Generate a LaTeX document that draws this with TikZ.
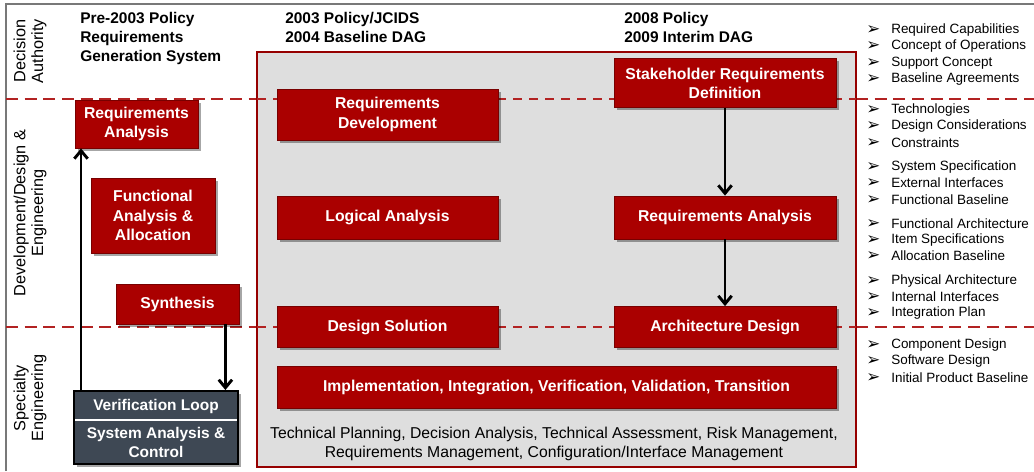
\documentclass[tikz,border=0pt]{standalone}
\usepackage{fontspec}
\setmainfont{Liberation Sans}
\newfontfamily\dejavu{DejaVu Sans}
\usetikzlibrary{shadows,arrows.meta}
\definecolor{boxred}{RGB}{170,0,0}
\definecolor{boxredline}{RGB}{120,0,0}
\definecolor{dashred}{RGB}{178,34,34}
\definecolor{panelgray}{RGB}{222,222,222}
\definecolor{panelline}{RGB}{150,0,0}
\definecolor{darkbox}{RGB}{62,72,84}
\definecolor{framegray}{RGB}{120,120,120}
\tikzset{
  redbox/.style={draw=boxredline, line width=0.6pt, fill=boxred, text=white,
    font=\bfseries\fontsize{11.8}{14.4}\selectfont, align=center, inner sep=0pt,
    drop shadow={shadow xshift=2pt, shadow yshift=-2pt, fill=black, opacity=0.35}},
  hdr/.style={font=\bfseries\fontsize{11.6}{14.2}\selectfont, align=left, anchor=north west, inner sep=0pt},
  lane/.style={font=\fontsize{12.2}{13.2}\selectfont, align=center, rotate=90, inner sep=0pt},
  item/.style={font=\fontsize{10.1}{12.2}\selectfont, anchor=west, inner sep=0pt},
  bul/.style={font=\dejavu\fontsize{12.5}{14}\selectfont, anchor=west, inner sep=0pt},
  sep/.style={dashred, line width=1.3pt, dash pattern=on 9pt off 5pt},
  sepin/.style={dashred, line width=0.9pt, dash pattern=on 7pt off 5pt},
  arr/.style={line width=2.2pt, -{Straight Barb[length=6pt,width=10pt,line width=2.2pt]}},
}
\begin{document}
\begin{tikzpicture}[x=0.75pt,y=-0.75pt]
\useasboundingbox (0,0) rectangle (1034,471);
% outer frame
\draw[framegray, line width=1pt] (6,471) -- (6,4) -- (1034,4);
% dashed separators (outside panel)
\draw[sep] (6,99) -- (257,99);
\draw[sep] (856,99) -- (1034,99);
\draw[sep] (6,327) -- (257,327);
\draw[sep] (856,327) -- (1034,327);
% panel
\node[draw=panelline, line width=1.3pt, fill=panelgray, minimum width=599*0.75pt, minimum height=415*0.75pt, inner sep=0pt] (panel) at (556.5,259.5) {};
\draw[sepin] (257,99) -- (856,99);
\draw[sepin] (257,327) -- (856,327);
% headers
\node[hdr] (h1) at (80,12) {Pre-2003 Policy\\Requirements\\Generation System};
\node[hdr] (h2) at (285,12) {2003 Policy/JCIDS\\2004 Baseline DAG};
\node[hdr] (h3) at (624,12) {2008 Policy\\2009 Interim DAG};
% lane labels
\node[lane] (l1) at (30,51) {Decision\\Authority};
\node[lane] (l2) at (30,213) {Development/Design \&\\Engineering};
\node[lane] (l3) at (30,398) {Specialty\\Engineering};
% left column boxes
\node[redbox, minimum width=123*0.75pt, minimum height=48*0.75pt] (ra1) at (136.5,124) {Requirements\\Analysis};
\node[redbox, minimum width=124*0.75pt, minimum height=75*0.75pt] (fa) at (153,215.5) {Functional\\Analysis \&\\Allocation};
\node[redbox, minimum width=123*0.75pt, minimum height=40*0.75pt] (syn) at (177.5,304) {Synthesis};
% dark box
\node[draw=black, line width=1.5pt, fill=darkbox, minimum width=164*0.75pt, minimum height=73*0.75pt, inner sep=0pt,
  drop shadow={shadow xshift=2pt, shadow yshift=-2pt, fill=black, opacity=0.35}] (sac) at (156,427.5) {};
\coordinate (sl) at (75,420);
\coordinate (sr) at (237,420);
\draw[white, line width=1pt] (sl) -- (sr);
\node[text=white, font=\bfseries\fontsize{11.6}{14.2}\selectfont, inner sep=0pt] (vl) at (156,406) {Verification Loop};
\node[text=white, font=\bfseries\fontsize{11.6}{14.2}\selectfont, align=center, inner sep=0pt] (sa) at (156,442.5) {System Analysis \&\\Control};
% middle column
\node[redbox, minimum width=221*0.75pt, minimum height=51*0.75pt] (rd) at (387.5,114.5) {Requirements\\Development};
\node[redbox, minimum width=221*0.75pt, minimum height=43*0.75pt] (la) at (387.5,217.5) {Logical Analysis};
\node[redbox, minimum width=221*0.75pt, minimum height=41*0.75pt] (ds) at (387.5,327) {Design Solution};
% right column
\node[redbox, minimum width=222*0.75pt, minimum height=49*0.75pt] (srd) at (725,83) {Stakeholder Requirements\\Definition};
\node[redbox, minimum width=222*0.75pt, minimum height=43*0.75pt] (ra2) at (725,217.5) {Requirements Analysis};
\node[redbox, minimum width=222*0.75pt, minimum height=41*0.75pt] (ad) at (725,327) {Architecture Design};
\node[redbox, minimum width=559*0.75pt, minimum height=42*0.75pt] (impl) at (556.5,387.5) {Implementation, Integration, Verification, Validation, Transition};
% bottom text
\node[font=\fontsize{11.8}{14.2}\selectfont, align=center, inner sep=0pt] (tp) at (554,443.5) {Technical Planning, Decision Analysis, Technical Assessment, Risk Management,\\Requirements Management, Configuration/Interface Management};
% arrows
\draw[arr] ([xshift=6pt]sac.north west) -- ([xshift=6pt]sac.north west |- ra1.south);
\draw[arr] ([xshift=-10.5pt]syn.south east) -- ([xshift=-10.5pt]syn.south east |- sac.north);
\draw[arr] (srd.south) -- (ra2.north);
\draw[arr] (ra2.south) -- (ad.north);
% right lists
\foreach \y/\t [count=\i] in {30/Required Capabilities, 46/Concept of Operations, 63/Support Concept, 79/Baseline Agreements,
  110/Technologies, 126/Design Considerations, 143/Constraints,
  167/System Specification, 183/External Interfaces, 200/Functional Baseline,
  224/Functional Architecture, 240/Item Specifications, 256/Allocation Baseline,
  281/Physical Architecture, 297/Internal Interfaces, 313/Integration Plan,
  345/Component Design, 361/Software Design, 378/Initial Product Baseline}{
  \node[bul] (b\i) at (866,\y) {➢};
  \node[item] (t\i) at (891,\y) {\t};
}
\end{tikzpicture}
\end{document}
